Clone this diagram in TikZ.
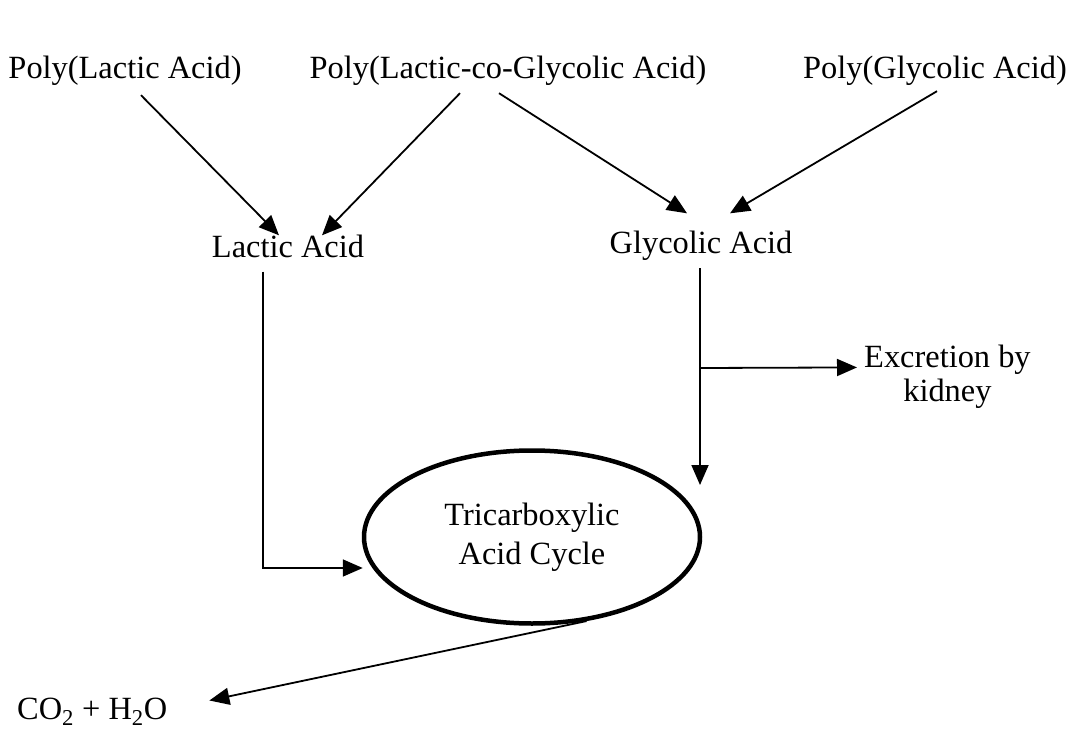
\documentclass[tikz,border=0pt]{standalone}
\usepackage{fontspec}
\setmainfont{Liberation Serif}
\usetikzlibrary{arrows.meta,shapes.geometric}
\tikzset{
  lbl/.style={inner sep=0pt,font=\fontsize{32.4}{34}\selectfont},
  flow/.style={line width=1.8pt},
}
\begin{document}
\begin{tikzpicture}[x=1pt,y=-1pt,>={Triangle[length=20pt,width=17pt]}]
\useasboundingbox (0,0) rectangle (1076,730);
\node[lbl,anchor=base] (pla) at (125,79) {Poly(Lactic Acid)};
\node[lbl,anchor=base] (plga) at (508,79) {Poly(Lactic-co-Glycolic Acid)};
\node[lbl,anchor=base] (pga) at (935,79) {Poly(Glycolic Acid)};
\node[lbl,anchor=base] (lactic) at (288,257) {Lactic Acid};
\node[lbl,anchor=base] (glycolic) at (701,253) {Glycolic Acid};
\node[lbl,align=center,anchor=north west] (excr) at (864,345) {Excretion by\\kidney};
\node[lbl,ellipse,draw,line width=4.5pt,align=center,minimum width=336pt,minimum height=173pt,
  font=\fontsize{32.4}{39}\selectfont] (tca) at (532,537) {Tricarboxylic\\Acid Cycle};
\node[lbl,anchor=base west] (co2) at (17,719) {CO\textsubscript{2} + H\textsubscript{2}O};
\coordinate (branch) at (700,368);
\coordinate (glend) at (700,485);

\draw[flow,->] ([xshift=16pt,yshift=-9pt]pla.south) -- ([xshift=-9pt,yshift=-1pt]lactic.north);
\draw[flow,->] ([xshift=-48pt,yshift=-7pt]plga.south) -- ([xshift=34pt,yshift=-1pt]lactic.north);
\draw[flow,->] ([xshift=-9pt,yshift=-7pt]plga.south) -- ([xshift=-14pt,yshift=17pt]glycolic.north);
\draw[flow,->] ([xshift=2pt,yshift=-5pt]pga.south) -- ([xshift=29pt,yshift=17pt]glycolic.north);
\draw[flow,->] ([xshift=-25pt,yshift=-14pt]lactic.south) |- ([xshift=1pt,yshift=-31pt]tca.west);
\draw[flow,->] ([xshift=-1pt,yshift=-8pt]glycolic.south) -- (glend);
\draw[flow,->] (branch) -- ([xshift=-7pt,yshift=9.5pt]excr.west);
\draw[flow,->] (tca.-57) -- ([xshift=42pt,yshift=11pt]co2.east);
\end{tikzpicture}
\end{document}
